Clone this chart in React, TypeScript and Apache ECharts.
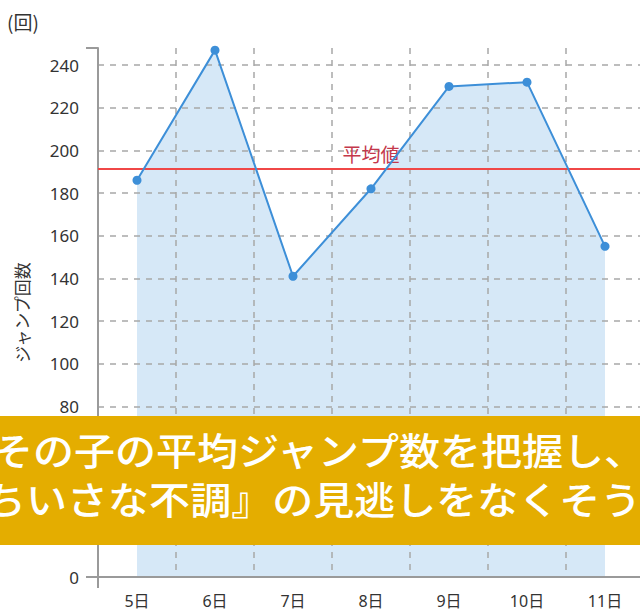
import React, { useEffect, useRef } from "react";
import * as echarts from "echarts";

const days = ["5日", "6日", "7日", "8日", "9日", "10日", "11日"];
const jumps = [186, 247, 141, 182, 230, 232, 155];
const averageValue = 191.6;
const averageLabel = "平均値";
const yMin = 0;
const yMax = 248;
const yInterval = 20;
const yTitle = "ジャンプ回数";
const unitLabel = "(回)";
const bannerLines = ["その子の平均ジャンプ数を把握し、", "『ちいさな不調』の見逃しをなくそう"];

const FONT = '"Noto Sans CJK JP", "Noto Sans", sans-serif';
const NUM_FONT = '"Noto Sans", "Noto Sans CJK JP", sans-serif';

export default function App() {
  const ref = useRef<HTMLDivElement>(null);
  useEffect(() => {
    if (!ref.current) return;
    const chart = echarts.init(ref.current, null, { renderer: "svg" });
    const gridLeft = 98;
    const gridTop = 48;
    const gridWidth = 546;
    const gridHeight = 529;
    const bannerTop = 416;
    const bannerHeight = 129;
    const splitStyle = { color: "#a8a8a8", width: 1.5, type: [6, 6] };
    const axisColor = "#9a9a9a";
    chart.setOption({
      animation: false,
      textStyle: { fontFamily: FONT },
      grid: {
        left: gridLeft,
        top: gridTop,
        width: gridWidth,
        height: gridHeight,
        containLabel: false,
        outerBoundsMode: "none",
      },
      xAxis: [
        {
          type: "category",
          data: days,
          boundaryGap: true,
          z: 3,
          axisLine: { show: true, lineStyle: { color: axisColor, width: 2 } },
          axisTick: { show: false },
          axisLabel: { color: "#333", fontSize: 16, margin: 16, fontFamily: NUM_FONT },
          splitLine: { show: true, showMinLine: false, lineStyle: splitStyle },
        },
        {
          type: "value",
          min: 0,
          max: 1,
          interval: 1,
          position: "bottom",
          z: 3,
          axisLine: { show: false },
          axisTick: { show: true, length: 11, lineStyle: { color: axisColor, width: 2 } },
          axisLabel: { show: false },
          splitLine: { show: false },
        },
      ],
      yAxis: [
        {
          type: "value",
          min: yMin,
          max: yMax,
          interval: yInterval,
          position: "left",
          z: 3,
          name: yTitle,
          nameLocation: "middle",
          nameRotate: 90,
          nameGap: 68,
          nameTextStyle: { color: "#333", fontSize: 17, fontFamily: FONT },
          axisLine: { show: true, lineStyle: { color: axisColor, width: 2 } },
          axisTick: { show: false },
          axisLabel: {
            color: "#333",
            fontSize: 17,
            margin: 19,
            showMaxLabel: false,
            fontFamily: NUM_FONT,
            // labels 20–60 sit under the banner and are not visible in the picture
            formatter: (v: number) => (v > 0 && v < 80 ? "" : String(v)),
          },
          splitLine: { show: true, showMinLine: false, showMaxLine: false, lineStyle: splitStyle },
        },
        {
          type: "value",
          min: yMin,
          max: yMax,
          interval: yMax,
          position: "left",
          z: 3,
          axisLine: { show: false },
          axisTick: { show: true, length: 12, lineStyle: { color: axisColor, width: 2 } },
          axisLabel: { show: false },
          splitLine: { show: false },
        },
      ],
      series: [
        {
          type: "line",
          data: jumps,
          z: 1,
          showSymbol: false,
          lineStyle: { width: 0, opacity: 0 },
          areaStyle: { color: "#d6e8f7", opacity: 1 },
          silent: true,
        },
        {
          type: "line",
          data: jumps,
          z: 5,
          symbol: "circle",
          symbolSize: 9,
          itemStyle: { color: "#3d8fd8" },
          lineStyle: { color: "#3d8fd8", width: 2 },
          markLine: {
            silent: true,
            symbol: "none",
            lineStyle: { color: "#f04747", width: 2, type: "solid" },
            label: {
              show: true,
              position: "insideMiddleTop",
              formatter: averageLabel,
              color: "#c4384b",
              fontSize: 19,
              distance: 5,
              fontFamily: FONT,
            },
            data: [{ yAxis: averageValue }],
          },
        },
      ],
      graphic: [
        {
          type: "text",
          left: 7,
          top: 12,
          style: { text: unitLabel, fill: "#333", font: `19px ${FONT}` },
        },
        {
          type: "rect",
          z: 100,
          shape: { x: 0, y: bannerTop, width: 640, height: bannerHeight },
          style: { fill: "#e4ad00" },
        },
        {
          type: "text",
          z: 101,
          x: -8,
          y: 448,
          scaleX: 1.08,
          style: {
            text: bannerLines[0],
            fill: "#ffffff",
            font: `500 38px ${FONT}`,
            textAlign: "left",
            textVerticalAlign: "middle",
          },
        },
        {
          type: "text",
          z: 101,
          x: -56,
          y: 497,
          scaleX: 1.08,
          style: {
            text: bannerLines[1],
            fill: "#ffffff",
            font: `500 38px ${FONT}`,
            textAlign: "left",
            textVerticalAlign: "middle",
          },
        },
      ],
    });
    return () => chart.dispose();
  }, []);
  return (
    <div
      ref={ref}
      style={{ position: "fixed", left: 0, top: 0, width: 640, height: 611, background: "#fff" }}
    />
  );
}
